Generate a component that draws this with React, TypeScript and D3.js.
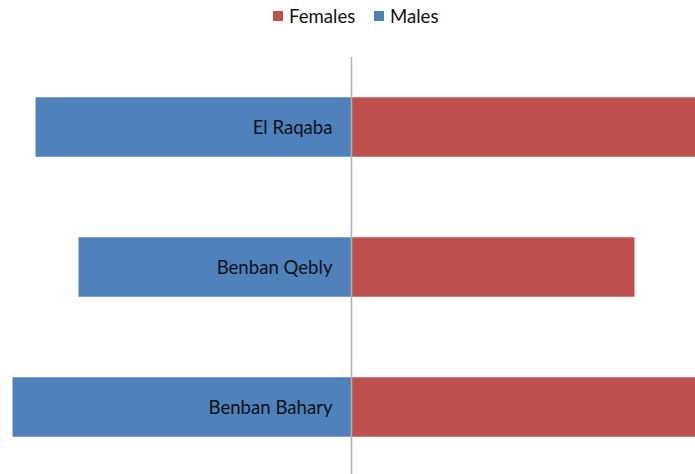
import { useEffect, useRef } from 'react';
import * as d3 from 'd3';

const villages = ['El Raqaba', 'Benban Qebly', 'Benban Bahary'];
const males = [3160, 2730, 3390];
const females = [3600, 2830, 3700];
const seriesNames = ['Females', 'Males'];
const seriesColors = ['#C0504D', '#4F81BD'];

const W = 695;
const H = 474;

export default function App() {
  const ref = useRef<SVGSVGElement>(null);

  useEffect(() => {
    if (!ref.current) return;
    const svg = d3.select(ref.current);
    svg.selectAll('*').remove();

    const cx = 351.5;
    const x = d3.scaleLinear().domain([-4000, 4000]).range([cx - 400, cx + 400]);
    const y = d3.scaleBand().domain(villages).range([57, 477]).paddingInner(0.575).paddingOuter(0.2875);

    const g = svg.append('g');

    // males to the left
    g.selectAll('rect.m')
      .data(villages)
      .join('rect')
      .attr('class', 'm')
      .attr('x', (_, i) => x(-males[i]))
      .attr('y', d => y(d)!)
      .attr('width', (_, i) => x(0) - x(-males[i]))
      .attr('height', y.bandwidth())
      .attr('fill', seriesColors[1]);

    // females to the right
    g.selectAll('rect.f')
      .data(villages)
      .join('rect')
      .attr('class', 'f')
      .attr('x', x(0))
      .attr('y', d => y(d)!)
      .attr('width', (_, i) => x(females[i]) - x(0))
      .attr('height', y.bandwidth())
      .attr('fill', seriesColors[0]);

    // centre axis
    g.append('line')
      .attr('x1', x(0)).attr('x2', x(0))
      .attr('y1', 57).attr('y2', 477)
      .attr('stroke', '#b3b3b3')
      .attr('stroke-width', 1.5);

    // category labels
    g.selectAll('text.lbl')
      .data(villages)
      .join('text')
      .attr('class', 'lbl')
      .attr('x', x(0) - 19)
      .attr('y', d => y(d)! + y.bandwidth() / 2)
      .attr('dy', '0.35em')
      .attr('text-anchor', 'end')
      .attr('font-family', 'Lato, sans-serif')
      .attr('font-size', 18.6)
      .attr('fill', '#111')
      .text(d => d);

    // legend
    const legend = svg.append('g');
    const lx = [273, 374];
    seriesNames.forEach((name, i) => {
      legend.append('rect')
        .attr('x', lx[i]).attr('y', 11)
        .attr('width', 10).attr('height', 10)
        .attr('fill', seriesColors[i]);
      legend.append('text')
        .attr('x', lx[i] + 16).attr('y', 16)
        .attr('dy', '0.35em')
        .attr('font-family', 'Lato, sans-serif')
        .attr('font-size', 18.6)
        .attr('fill', '#111')
        .text(name);
    });
  }, []);

  return (
    <svg
      ref={ref}
      width={W}
      height={H}
      style={{ position: 'absolute', left: 0, top: 0, background: '#fff' }}
    />
  );
}
